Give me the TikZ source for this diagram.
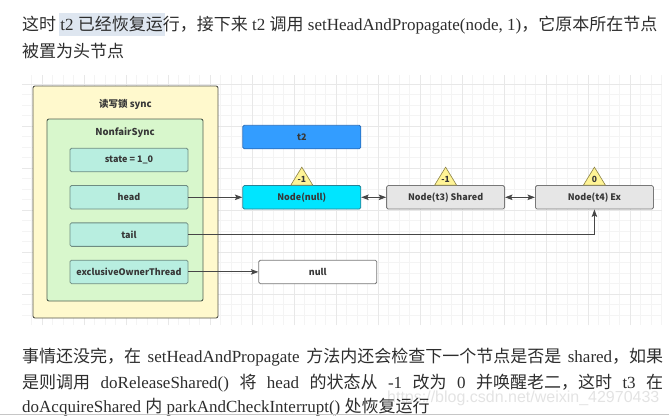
\documentclass[tikz,border=0pt]{standalone}
\usepackage{fontspec}
\setmainfont{Liberation Serif}
\setsansfont{Liberation Sans}
\newfontfamily\cjk{Noto Sans CJK SC}
\usetikzlibrary{arrows.meta, positioning}

\definecolor{bodytext}{RGB}{45,45,45}
\definecolor{boxtext}{RGB}{55,55,55}
\definecolor{gridminor}{RGB}{244,244,244}
\definecolor{gridmajor}{RGB}{232,232,232}
\definecolor{syncfill}{RGB}{255,249,205}
\definecolor{syncline}{RGB}{85,85,75}
\definecolor{nfsfill}{RGB}{216,247,204}
\definecolor{nfsline}{RGB}{80,95,80}
\definecolor{fieldfill}{RGB}{184,238,224}
\definecolor{fieldline}{RGB}{110,140,130}
\definecolor{t2blue}{RGB}{51,157,255}
\definecolor{t2line}{RGB}{40,110,190}
\definecolor{headcyan}{RGB}{0,229,255}
\definecolor{headline}{RGB}{40,130,150}
\definecolor{nodegrey}{RGB}{230,230,230}
\definecolor{nodeline}{RGB}{120,120,120}
\definecolor{warnfill}{RGB}{255,244,150}
\definecolor{warnline}{RGB}{140,130,70}
\definecolor{arrowgrey}{RGB}{70,70,70}
\definecolor{marked}{RGB}{222,230,240}

\begin{document}
\begin{tikzpicture}[x=1bp,y=-1bp,>={Stealth[length=7.5bp,width=5.5bp,inset=1.5bp]},
  node distance=13bp,
  box/.style={draw, rounded corners=1.5bp, line width=0.8bp, inner sep=0pt,
    minimum width=118bp, minimum height=23.5bp, text=boxtext,
    font=\cjk\bfseries\fontsize{9bp}{11bp}\selectfont},
  field/.style={box, fill=fieldfill, draw=fieldline},
  qnode/.style={box, fill=nodegrey, draw=nodeline},
  title/.style={text=boxtext, font=\cjk\bfseries\fontsize{9.5bp}{11bp}\selectfont},
  warn/.style={draw=warnline, fill=warnfill, line width=0.6bp},
  textline/.style={anchor=base west, inner sep=0pt, text=bodytext,
    font=\fontsize{17bp}{20bp}\selectfont},
  link/.style={draw=arrowgrey, line width=0.9bp}]
\useasboundingbox (0,0) rectangle (669,415);

%Text oben
\fill[marked] (59,13) rectangle (165,36);
\node[textline] (top1) at (22,30) {{\cjk 这时} t2 {\cjk 已经恢复运行，接下来} t2 {\cjk 调用} setHeadAndPropagate(node, 1){\cjk ，它原本所在节点}};
\node[textline] (top2) at (22,57) {\cjk 被置为头节点};

%Raster
\draw[gridminor, line width=0.5bp, step=10.5bp] (22,75) grid (662,325);
\draw[gridmajor, line width=0.6bp, step=42bp] (22,75) grid (662,325);

%Kaesten
\node[draw=syncline, fill=syncfill, rounded corners=2bp, line width=0.9bp,
  minimum width=185bp, minimum height=232bp, inner sep=0pt] (sync) at (125.5,202) {};
\node[title] (synctitle) at (125.5,104) {读写锁 sync};
\node[draw=nfsline, fill=nfsfill, rounded corners=2bp, line width=0.9bp,
  minimum width=156bp, minimum height=182bp, inner sep=0pt] (nfs) at (125,210) {};
\node[title] (nfstitle) at (125,133) {NonfairSync};

\node[field] (state) at (129,160) {state = 1\_0};
\node[field, below=of state] (head) {head};
\node[field, below=of head] (tail) {tail};
\node[field, below=of tail] (owner) {exclusiveOwnerThread};

\node[box, fill=headcyan, draw=headline, right=54bp of head] (n0) {Node(null)};
\node[qnode, right=25bp of n0] (n3) {Node(t3) Shared};
\node[qnode, right=30bp of n3] (n4) {Node(t4) Ex};
\node[box, fill=t2blue, draw=t2line, above=36bp of n0] (t2) {t2};
\node[box, fill=white, draw=nodeline, right=70bp of owner] (null) {null};

%Warnstatus
\foreach \n/\w in {n0/-1, n3/-1, n4/0} {
  \draw[warn] ([xshift=-11bp]\n.north) -- ([yshift=18bp]\n.north) -- ([xshift=11bp]\n.north) -- cycle;
  \node[inner sep=0pt, text=boxtext, font=\cjk\bfseries\fontsize{8.5bp}{9bp}\selectfont] (w\n) at ([yshift=6bp]\n.north) {\w};
}

%Verbindungen
\draw[link, ->] (head) -- (n0);
\draw[link, <->] (n0) -- (n3);
\draw[link, <->] (n3) -- (n4);
\draw[link, ->] (tail.east) -| (n4.south);
\draw[link, ->] (owner) -- (null);

%Text unten
\node[textline] (bot1) at (22,362) {\makebox[641bp][s]{{\cjk 事情还没完，在} setHeadAndPropagate {\cjk 方法内还会检查下一个节点是否是} shared{\cjk ，如果}}};
\node[textline] (bot2) at (22,388) {\makebox[641bp][s]{{\cjk 是则调用} doReleaseShared() {\cjk 将} head {\cjk 的状态从} -1 {\cjk 改为} 0 {\cjk 并唤醒老二，这时} t3 {\cjk 在}}};
\node[anchor=base west, inner sep=0pt, text=gray!22, font=\sffamily\fontsize{16bp}{18bp}\selectfont] (mark) at (387,402) {https://blog.csdn.net/weixin\_42970433};
\node[textline] (bot3) at (22,412) {doAcquireShared {\cjk 内} parkAndCheckInterrupt() {\cjk 处恢复运行}};
\draw[gray!45, line width=0.8bp] (0,414.5) -- (669,414.5);
\end{tikzpicture}
\end{document}
